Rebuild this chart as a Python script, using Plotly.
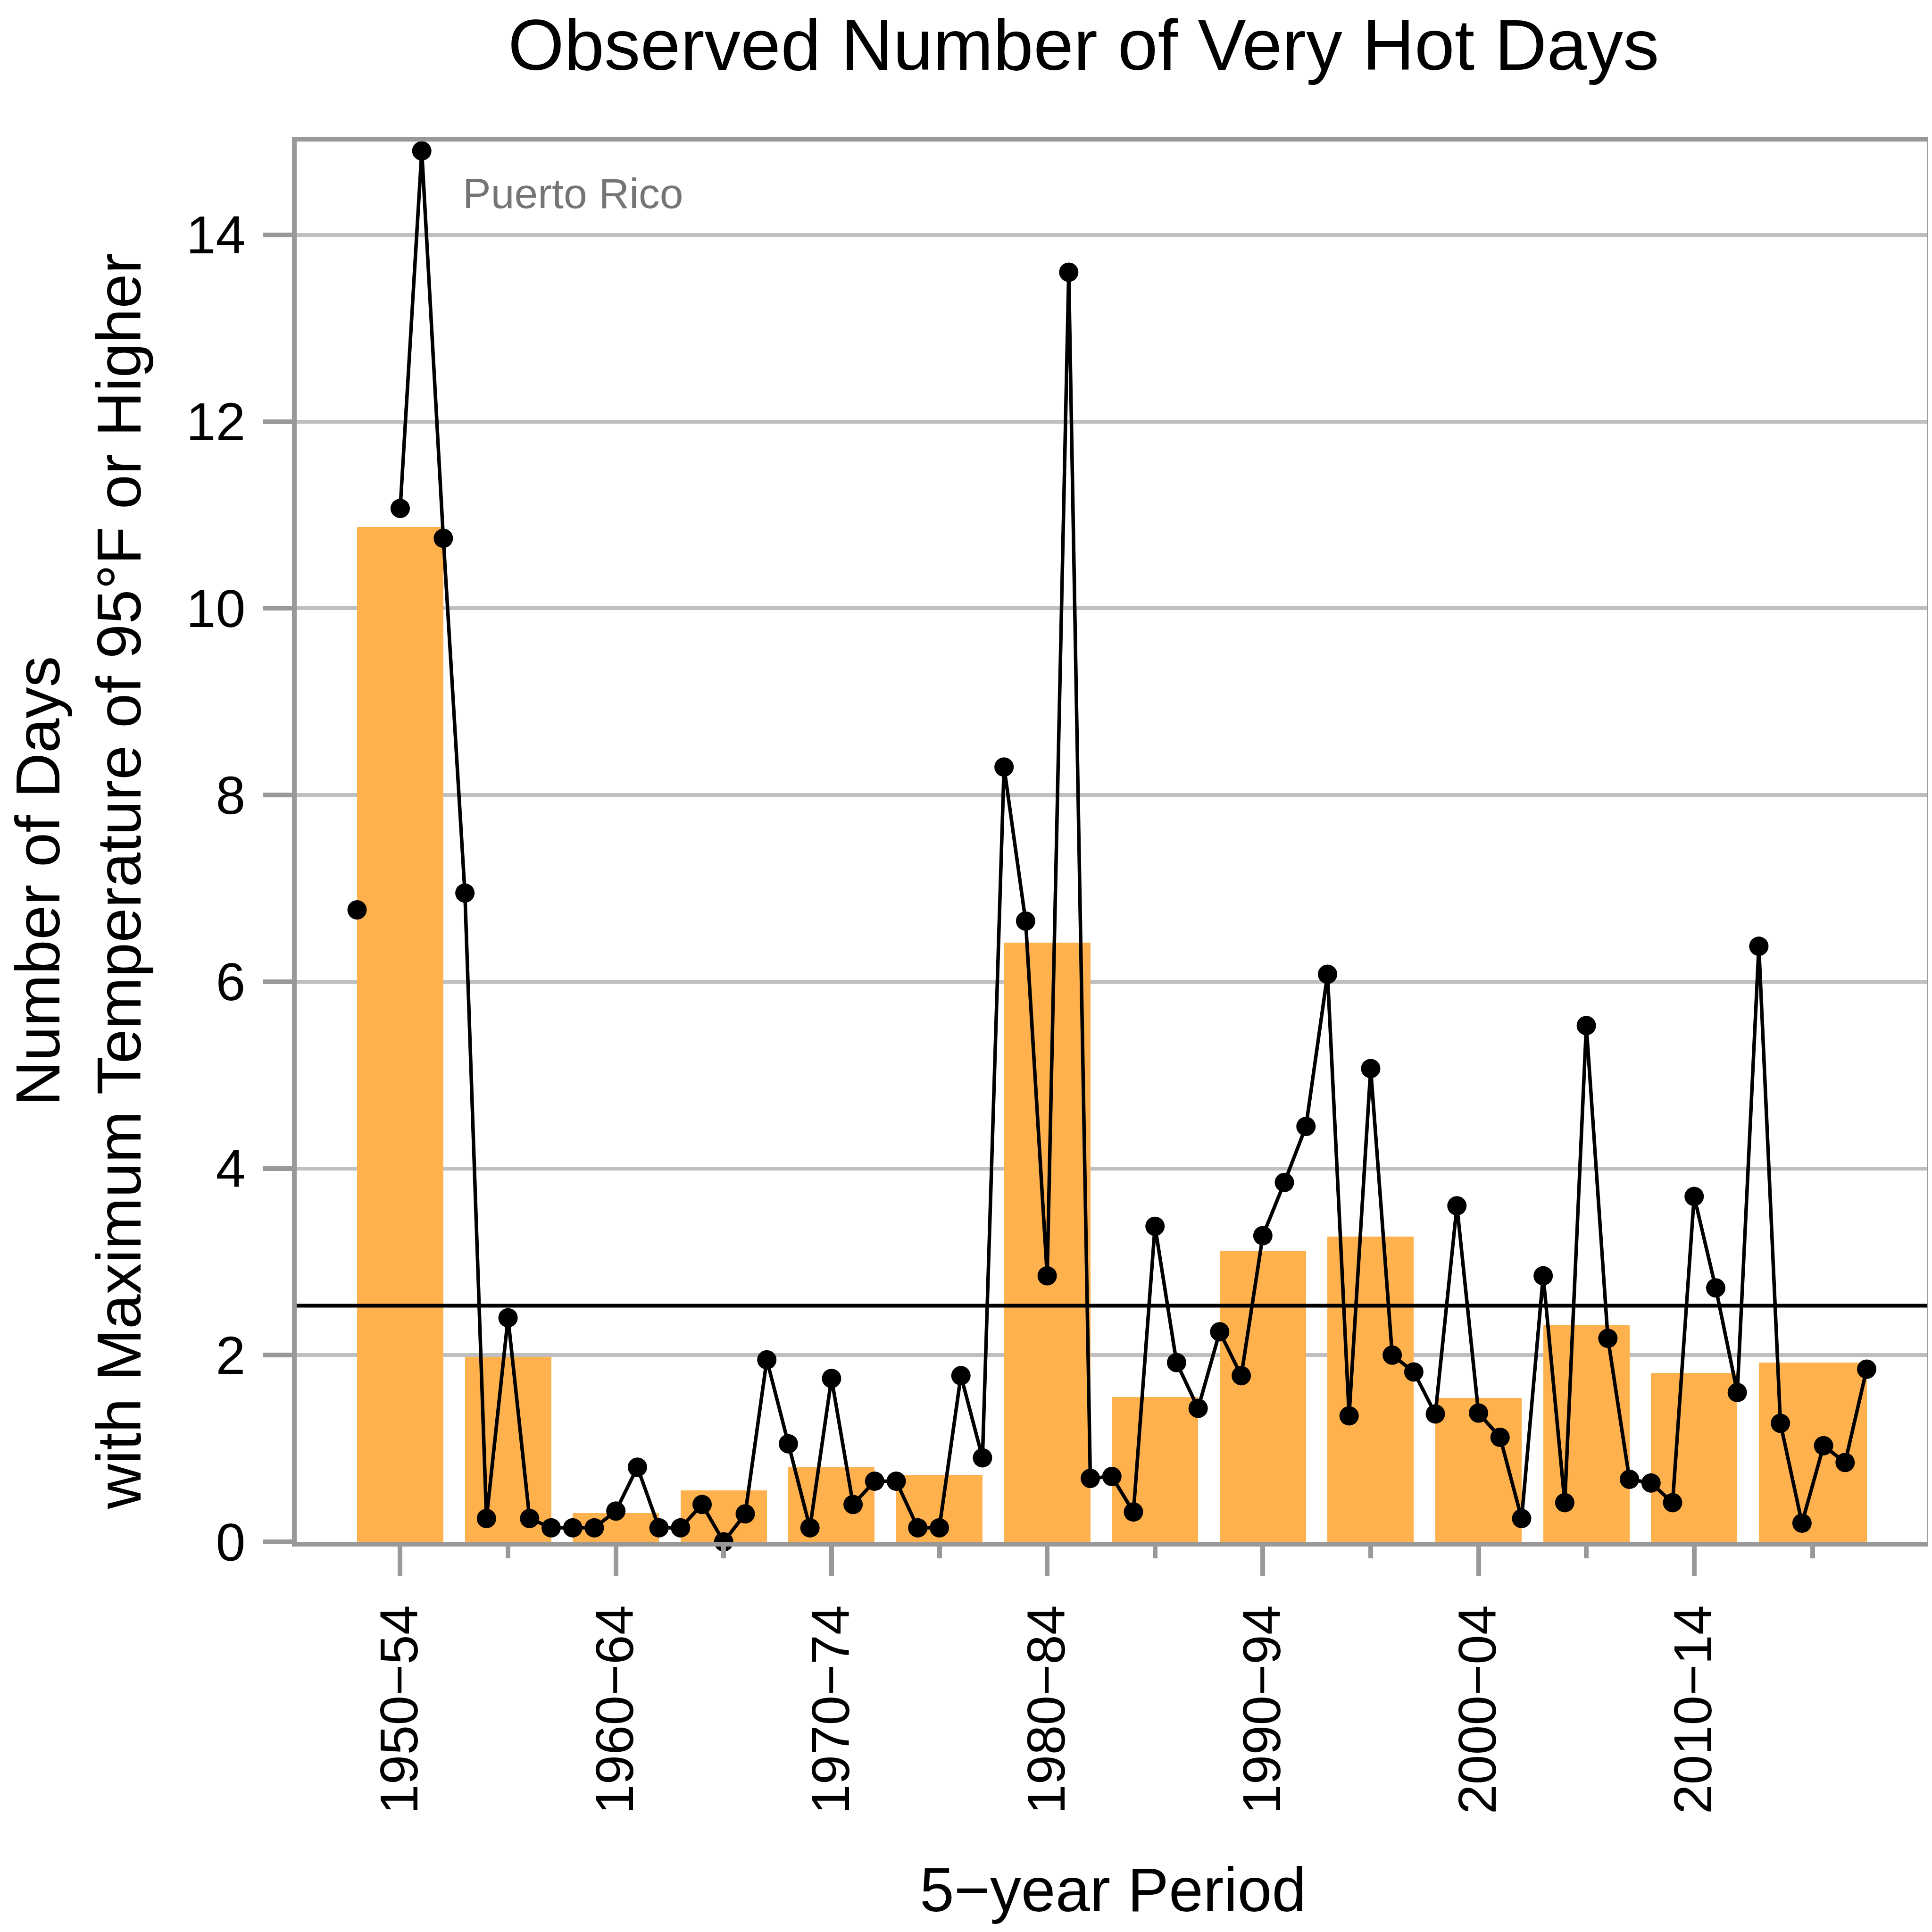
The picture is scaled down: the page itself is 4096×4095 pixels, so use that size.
import plotly.graph_objects as go

# ---- data ----
years = list(range(1950, 2021))
hot_days = [6.77, None, 11.07, 14.9, 10.75,
            6.95, 0.25, 2.4, 0.25, 0.15,
            0.15, 0.15, 0.33, 0.8, 0.15,
            0.15, 0.4, 0.0, 0.3, 1.95,
            1.05, 0.15, 1.75, 0.4, 0.65,
            0.65, 0.15, 0.15, 1.78, 0.9,
            8.3, 6.65, 2.85, 13.6, 0.68,
            0.7, 0.32, 3.38, 1.92, 1.43,
            2.25, 1.78, 3.28, 3.85, 4.45,
            6.08, 1.35, 5.07, 2.0, 1.82,
            1.37, 3.6, 1.38, 1.12, 0.25,
            2.85, 0.42, 5.53, 2.18, 0.67,
            0.63, 0.42, 3.7, 2.72, 1.6,
            6.38, 1.27, 0.2, 1.03, 0.85, 1.85]

period_start = [1950, 1955, 1960, 1965, 1970, 1975, 1980, 1985, 1990, 1995, 2000, 2005, 2010, 2015]
period_end = [1954, 1959, 1964, 1969, 1974, 1979, 1984, 1989, 1994, 1999, 2004, 2009, 2014, 2020]
period_avg = [10.87, 1.98, 0.31, 0.55, 0.80, 0.72, 6.42, 1.55, 3.12, 3.27, 1.54, 2.32, 1.81, 1.92]

long_term_avg = 2.53

tick_years = [1952, 1962, 1972, 1982, 1992, 2002, 2012]
tick_labels = ["1950\u221254", "1960\u221264", "1970\u221274", "1980\u221284",
               "1990\u221294", "2000\u221204", "2010\u221214"]
minor_tick_years = [1957, 1967, 1977, 1987, 1997, 2007, 2017.5]
y_ticks = [0, 2, 4, 6, 8, 10, 12, 14]

X_RANGE = [1947.20, 2022.81]
Y_RANGE = [0, 15]

# ---- figure ----
FONT = "Liberation Sans, Arial, sans-serif"
AXIS_GRAY = "#999999"

bar_x = [(s + e) / 2 for s, e in zip(period_start, period_end)]
bar_w = [e - s for s, e in zip(period_start, period_end)]

fig = go.Figure()
fig.add_trace(go.Bar(x=bar_x, y=period_avg, width=bar_w,
                     marker=dict(color="#FFB14E", line=dict(width=0)),
                     showlegend=False, hoverinfo="skip"))
fig.add_trace(go.Scatter(x=X_RANGE, y=[long_term_avg, long_term_avg], mode="lines",
                         line=dict(color="black", width=8), showlegend=False,
                         hoverinfo="skip"))
fig.add_trace(go.Scatter(x=years, y=hot_days, mode="lines+markers",
                         connectgaps=False,
                         line=dict(color="black", width=7.5),
                         marker=dict(color="black", size=41, line=dict(width=0)),
                         showlegend=False, cliponaxis=False))

W, H = 4096, 4095
L, R, T, B = 621, 8, 292, 835
pw, ph = W - L - R, H - T - B

def px(xp):
    return (xp - L) / pw

def py(yp):
    return (H - B - yp) / ph

fig.update_layout(
    width=W, height=H,
    margin=dict(l=L, r=R, t=T, b=B),
    paper_bgcolor="white", plot_bgcolor="white",
    font=dict(family=FONT, color="black"),
    bargap=0,
    title=dict(text="Observed Number of Very Hot Days",
               font=dict(size=153, family=FONT, color="black"),
               x=px(2294), xref="paper", xanchor="center",
               y=1 - 86 / H, yref="container", yanchor="middle"),
    xaxis=dict(range=X_RANGE, showgrid=False, zeroline=False,
               showline=True, mirror=True, linecolor=AXIS_GRAY, linewidth=10,
               tickmode="array", tickvals=tick_years, ticktext=tick_labels,
               tickangle=-90, ticks="outside", ticklen=62, tickwidth=10,
               tickcolor=AXIS_GRAY, tickfont=dict(size=113, family=FONT, color="black"),
               ticklabelstandoff=17,
               minor=dict(tickmode="array", tickvals=minor_tick_years, ticks="outside",
                          ticklen=25, tickwidth=10, tickcolor=AXIS_GRAY, showgrid=False)),
    yaxis=dict(range=Y_RANGE, tickmode="array", tickvals=y_ticks,
               showgrid=True, gridcolor="#BFBFBF",
               gridwidth=8, zeroline=False,
               showline=True, mirror=True, linecolor=AXIS_GRAY, linewidth=10,
               ticks="outside", ticklen=62, tickwidth=10, tickcolor=AXIS_GRAY,
               tickfont=dict(size=113, family=FONT, color="black"),
               ticklabelstandoff=14),
    annotations=[
        dict(text="Puerto Rico", x=px(972), y=py(402), xref="paper", yref="paper",
             xanchor="left", yanchor="middle", showarrow=False,
             font=dict(size=89.5, family=FONT, color="#757575")),
        dict(text="5\u2212year Period", x=px(2357), y=py(3998), xref="paper", yref="paper",
             xanchor="center", yanchor="middle", showarrow=False,
             font=dict(size=131, family=FONT, color="black")),
        dict(text="Number of Days<br>with Maximum Temperature of 95\u00b0F or Higher",
             x=px(157), y=py(1860), xref="paper", yref="paper", textangle=-90,
             xanchor="center", yanchor="middle", showarrow=False,
             font=dict(size=132, family=FONT, color="black")),
    ],
)

fig.write_html("out.html")
